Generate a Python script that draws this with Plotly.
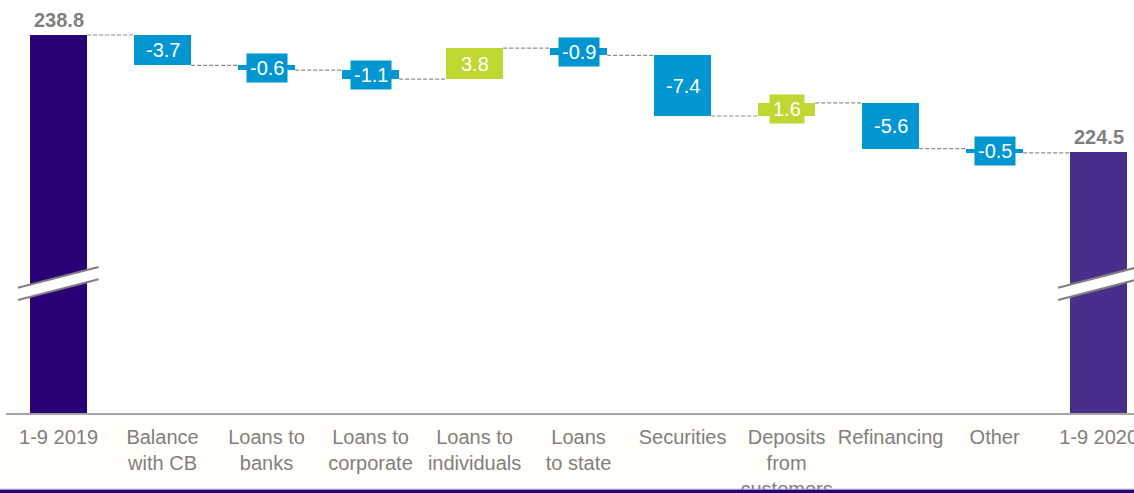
import plotly.graph_objects as go

categories = ["1-9 2019", "Balance<br>with CB", "Loans to<br>banks", "Loans to<br>corporate",
              "Loans to<br>individuals", "Loans<br>to state", "Securities",
              "Deposits<br>from<br>customers", "Refinancing", "Other", "1-9 2020"]
start_value = 238.8
end_value = 224.5
deltas = [-3.7, -0.6, -1.1, 3.8, -0.9, -7.4, 1.6, -5.6, -0.5]

C_START = "#2A0077"
C_END = "#4A2E8C"
C_DOWN = "#0096D2"
C_UP = "#BFD730"
GRAY = "#7F7F7F"
FONT = "Liberation Sans, Arial"

n = len(categories)
xs = list(range(n))
levels = [start_value]
for d in deltas:
    levels.append(round(levels[-1] + d, 2))

bases, heights, colors = [0], [start_value], [C_START]
for i, d in enumerate(deltas):
    prev = levels[i]
    bases.append(prev + min(d, 0))
    heights.append(abs(d))
    colors.append(C_UP if d > 0 else C_DOWN)
bases.append(0)
heights.append(end_value)
colors.append(C_END)

BW = 0.55
fig = go.Figure()
fig.add_trace(go.Bar(x=xs, y=heights, base=bases, width=BW,
                     marker=dict(color=colors, line=dict(width=0)),
                     hoverinfo="skip"))

shapes = []
# connectors: from bar i to bar i+1 at the running level after bar i
for i in range(n - 1):
    lvl = levels[i]
    shapes.append(dict(type="line", xref="x", yref="y",
                       x0=i + BW / 2, x1=i + 1 - BW / 2, y0=lvl, y1=lvl,
                       line=dict(color="#8C8C8C", width=1.2, dash="4px,2px"), layer="below"))

# axis break marks
for xc in (0, n - 1):
    shapes.append(dict(type="path", xref="x", yref="y",
                       path=f"M {xc-0.39} 207.9 L {xc+0.385} 210.45 L {xc+0.385} 208.95 L {xc-0.39} 206.4 Z",
                       fillcolor="white", line=dict(width=0), layer="above"))
    for (ya, yb) in ((207.9, 210.45), (206.4, 208.95)):
        shapes.append(dict(type="line", xref="x", yref="y",
                           x0=xc - 0.39, x1=xc + 0.385, y0=ya, y1=yb,
                           line=dict(color="#808080", width=2), layer="above"))

# cream area below axis and purple strip at bottom
shapes.append(dict(type="rect", xref="paper", yref="paper", x0=-0.01, x1=1.01,
                   y0=-0.18, y1=-0.003, fillcolor="#FFFEF8", line=dict(width=0), layer="below"))
shapes.append(dict(type="rect", xref="paper", yref="paper", x0=-0.01, x1=1.01,
                   y0=-0.2, y1=-0.1855, fillcolor=C_START, line=dict(width=0), layer="above"))
shapes.append(dict(type="line", xref="paper", yref="paper", x0=-0.01, x1=1.01,
                   y0=-0.1845, y1=-0.1845, line=dict(color="#A99CCB", width=1), layer="above"))

annotations = []
for i, d in enumerate(deltas):
    mid = levels[i] + d / 2
    annotations.append(dict(x=i + 1, y=mid, xref="x", yref="y", text=f"{d:.1f}",
                            showarrow=False, font=dict(family=FONT, size=20, color="white"),
                            bgcolor=C_UP if d > 0 else C_DOWN, borderpad=3))
for xi, v in ((0, start_value), (n - 1, end_value)):
    annotations.append(dict(x=xi, y=v, xref="x", yref="y", text=f"<b>{v:.1f}</b>",
                            showarrow=False, yanchor="bottom", yshift=2,
                            font=dict(family=FONT, size=20, color=GRAY)))

fig.update_layout(
    width=1134, height=493,
    margin=dict(l=6, r=0, t=0, b=80, autoexpand=False),
    paper_bgcolor="white", plot_bgcolor="white",
    showlegend=False, bargap=0,
    shapes=shapes, annotations=annotations,
    xaxis=dict(range=[-0.505, 10.34], tickvals=xs, ticktext=categories,
               showgrid=False, zeroline=False, showline=True, linecolor="#A6A6A6", linewidth=2,
               ticks="", tickfont=dict(family=FONT, size=20, color=GRAY),
               ticklabelstandoff=5, ticklabeloverflow="allow", automargin=False,
               tickangle=0, fixedrange=True),
    yaxis=dict(range=[192.59, 243.08], visible=False, fixedrange=True, automargin=False),
)
fig.write_html("out.html", post_script="document.body.style.margin='0';",
               config={"displayModeBar": False})
